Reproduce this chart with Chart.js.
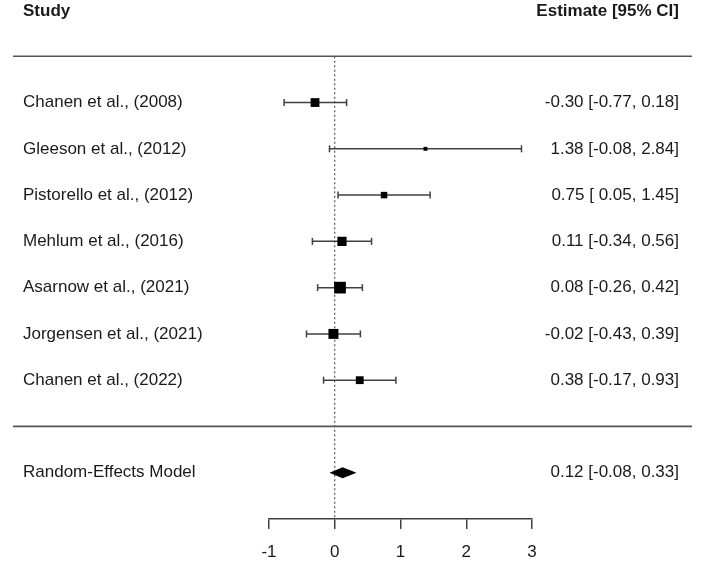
<!DOCTYPE html>
<html>
<head>
<meta charset="utf-8">
<script src="https://cdn.jsdelivr.net/npm/chart.js@4"></script>
<style>
  html, body { margin: 0; padding: 0; background: #fff; }
  #wrap { width: 709px; height: 565px; position: relative; }
</style>
</head>
<body>
<div id="wrap"><canvas id="forest"></canvas></div>
<script>
const studies = [
    'Chanen et al., (2008)',
    'Gleeson et al., (2012)',
    'Pistorello et al., (2012)',
    'Mehlum et al., (2016)',
    'Asarnow et al., (2021)',
    'Jorgensen et al., (2021)',
    'Chanen et al., (2022)'
];
const estimates = [-0.30, 1.38, 0.75, 0.11, 0.08, -0.02, 0.38];
const lower = [-0.77, -0.08, 0.05, -0.34, -0.26, -0.43, -0.17];
const upper = [0.18, 2.84, 1.45, 0.56, 0.42, 0.39, 0.93];

const pooledLabel = 'Random-Effects Model';
const pooledEstimate = 0.12;
const pooledLower = -0.08;
const pooledUpper = 0.33;

const xTicks = [-1, 0, 1, 2, 3];
const headers = ['Study', 'Estimate [95% CI]'];

const ink = '#1a1a1a';
const lineColor = '#404040';
const FONT = "'Liberation Sans', Arial, Helvetica, sans-serif";

// rows: studies from 7 down to 1, pooled at -1, header at 9
const rows = studies.map((s, i) => studies.length - i);
const pooledRow = -1;
const headerRow = studies.length + 2;

// metafor style square size: inverse CI width, rescaled to 0.5 .. 1.5
const invWidth = lower.map((lo, i) => 1 / (upper[i] - lo));
const minW = Math.min(...invWidth);
const maxW = Math.max(...invWidth);
const squareSide = invWidth.map(w => 7.8 * ((w - minW) / (maxW - minW) + 0.5));

function fmt(v) {
    return v.toFixed(2);
}
function fmtLow(v) {
    return v < 0 ? fmt(v) : ' ' + fmt(v);
}
function ciText(est, lo, hi) {
    return `${fmt(est)} [${fmtLow(lo)}, ${fmt(hi)}]`;
}

const datasets = [];

// squares (drawn on top)
datasets.push({
    label: 'estimates',
    data: estimates.map((e, i) => ({ x: e, y: rows[i] })),
    pointStyle: 'rect',
    pointRadius: squareSide.map(s => s / (2 * Math.SQRT1_2)),
    pointBackgroundColor: '#000',
    pointBorderWidth: 0,
    showLine: false,
    order: 0
});

// CI whiskers with end caps
studies.forEach((s, i) => {
    datasets.push({
        label: s,
        data: [{ x: lower[i], y: rows[i] }, { x: upper[i], y: rows[i] }],
        showLine: true,
        borderColor: lineColor,
        borderWidth: 1.5,
        pointStyle: 'line',
        rotation: 90,
        pointRadius: 3.5,
        pointBorderColor: lineColor,
        pointBorderWidth: 1.5,
        order: 1
    });
});

// reference line at zero
datasets.push({
    label: 'zero',
    data: [{ x: 0, y: studies.length + 1 }, { x: 0, y: -2 }],
    showLine: true,
    borderColor: '#333',
    borderWidth: 1,
    borderDash: [2, 2.5],
    pointRadius: 0,
    order: 2
});

const forestDecor = {
    id: 'forestDecor',
    afterDatasetsDraw(chart) {
        const ctx = chart.ctx;
        const xs = chart.scales.x;
        const ys = chart.scales.y;
        const leftX = 23;
        const rightX = 679;

        ctx.save();

        // separators
        ctx.strokeStyle = '#555';
        ctx.lineWidth = 1.7;
        [studies.length + 1, 0].forEach(r => {
            const y = ys.getPixelForValue(r);
            ctx.beginPath();
            ctx.moveTo(13, y);
            ctx.lineTo(692, y);
            ctx.stroke();
        });

        // pooled diamond
        const py = ys.getPixelForValue(pooledRow);
        ctx.fillStyle = '#000';
        ctx.beginPath();
        ctx.moveTo(xs.getPixelForValue(pooledLower), py);
        ctx.lineTo(xs.getPixelForValue(pooledEstimate), py - 5.5);
        ctx.lineTo(xs.getPixelForValue(pooledUpper), py);
        ctx.lineTo(xs.getPixelForValue(pooledEstimate), py + 5.5);
        ctx.closePath();
        ctx.fill();

        // headers
        ctx.fillStyle = ink;
        ctx.textBaseline = 'middle';
        ctx.font = `bold 17px ${FONT}`;
        const hy = ys.getPixelForValue(headerRow) + 1.5;
        ctx.textAlign = 'left';
        ctx.fillText(headers[0], leftX, hy);
        ctx.textAlign = 'right';
        ctx.fillText(headers[1], rightX, hy);

        // study rows
        ctx.font = `17px ${FONT}`;
        studies.forEach((s, i) => {
            const y = ys.getPixelForValue(rows[i]);
            ctx.textAlign = 'left';
            ctx.fillText(s, leftX, y);
            ctx.textAlign = 'right';
            ctx.fillText(ciText(estimates[i], lower[i], upper[i]), rightX, y);
        });

        ctx.textAlign = 'left';
        ctx.fillText(pooledLabel, leftX, py);
        ctx.textAlign = 'right';
        ctx.fillText(ciText(pooledEstimate, pooledLower, pooledUpper), rightX, py);

        ctx.restore();
    }
};

Chart.defaults.font.family = FONT;

const chart = new Chart(document.getElementById('forest').getContext('2d'), {
    type: 'scatter',
    data: { datasets: datasets },
    options: {
        responsive: true,
        maintainAspectRatio: false,
        animation: false,
        layout: {
            padding: { left: 269, right: 177, top: 10, bottom: 0 }
        },
        plugins: {
            legend: { display: false },
            tooltip: { enabled: false }
        },
        scales: {
            x: {
                type: 'linear',
                min: xTicks[0],
                max: xTicks[xTicks.length - 1],
                afterBuildTicks: scale => {
                    scale.ticks = xTicks.map(v => ({ value: v }));
                },
                afterFit: scale => {
                    scale.height = 46;
                },
                ticks: {
                    color: ink,
                    padding: 13,
                    font: { size: 17 }
                },
                grid: {
                    drawOnChartArea: false,
                    drawTicks: true,
                    tickLength: 10,
                    color: lineColor,
                    lineWidth: 1.5
                },
                border: {
                    display: true,
                    color: lineColor,
                    width: 1.5
                }
            },
            y: {
                type: 'linear',
                display: false,
                min: -2,
                max: headerRow
            }
        }
    },
    plugins: [forestDecor]
});
</script>
</body>
</html>
